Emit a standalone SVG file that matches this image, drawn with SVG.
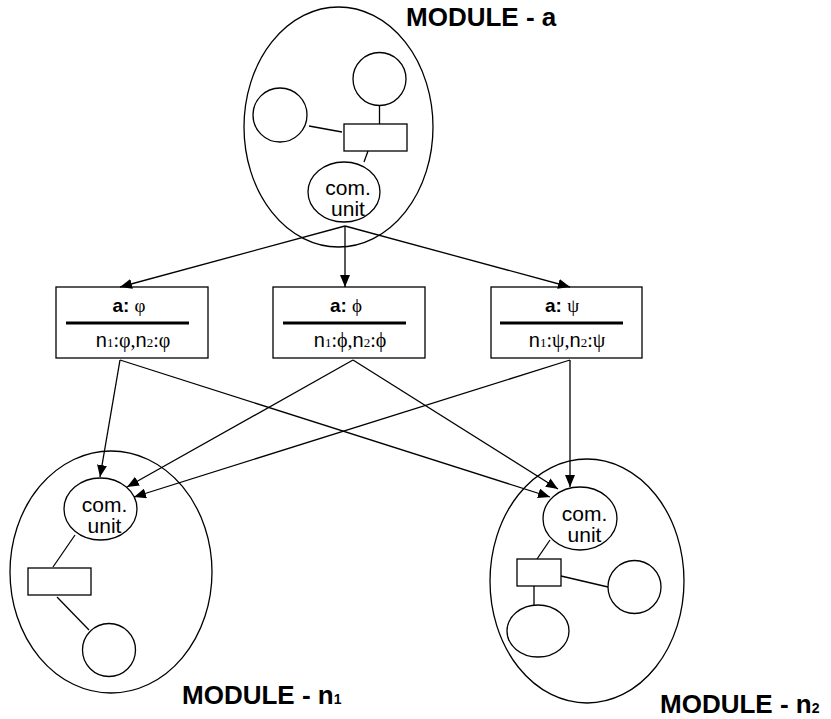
<svg xmlns="http://www.w3.org/2000/svg" width="831" height="719" viewBox="0 0 831 719">
<defs>
<marker id="ah" markerUnits="userSpaceOnUse" markerWidth="13" markerHeight="10" refX="12" refY="5" orient="auto"><path d="M0,0 L12,5 L0,10 z" fill="#000"/></marker>
<style>
.n{fill:none;stroke:#000;stroke-width:1.3}
.b{fill:#fff;stroke:#000;stroke-width:1.3}
.c{fill:none;stroke:#000;stroke-width:1.3;marker-end:url(#ah)}
.t{font-family:"Liberation Sans",Arial,sans-serif;font-size:21px;fill:#000}
.lbl{font-family:"Liberation Sans",Arial,sans-serif;font-size:26px;font-weight:bold;fill:#000}
.bt{font-family:"Liberation Sans",Arial,sans-serif;font-size:19px;fill:#000}
.bn{font-family:"Liberation Sans",Arial,sans-serif;font-size:20px;fill:#000}
.sym{font-family:"Liberation Serif","Times New Roman",serif}
.sub{font-family:"Liberation Serif","Times New Roman",serif;font-size:13px}
.sep{stroke:#000;stroke-width:3}
</style>
</defs>
<rect width="831" height="719" fill="#fff"/>

<g id="module-a">
<ellipse class="n" cx="338.5" cy="127" rx="94.5" ry="120"/>
<circle class="n" cx="379.5" cy="79" r="26.5"/>
<circle class="n" cx="280" cy="115" r="27"/>
<rect class="n" x="344" y="124" width="63" height="27"/>
<line class="n" x1="379.5" y1="105.5" x2="379.5" y2="124"/>
<line class="n" x1="309" y1="126" x2="342" y2="132"/>
<line class="n" x1="368" y1="151" x2="364" y2="162"/>
<ellipse class="n" cx="344" cy="192" rx="36" ry="30"/>
<text class="t" x="348" y="195" text-anchor="middle">com.</text>
<text class="t" x="348" y="216" text-anchor="middle">unit</text>
<text class="lbl" x="406" y="26">MODULE - a</text>
</g>

<g id="box-a-phi">
<rect class="b" x="56" y="287" width="152" height="71"/>
<text class="bt" x="129" y="312" text-anchor="middle"><tspan font-weight="bold">a:</tspan> <tspan class="sym">φ</tspan></text>
<line class="sep" x1="66" y1="323" x2="189" y2="323"/>
<text class="bn" x="133" y="347" text-anchor="middle">n<tspan class="sub">1</tspan><tspan class="sym">:φ,</tspan>n<tspan class="sub">2</tspan><tspan class="sym">:φ</tspan></text>
</g>

<g id="box-a-phi2">
<rect class="b" x="273" y="287" width="152" height="71"/>
<text class="bt" x="346" y="312" text-anchor="middle"><tspan font-weight="bold">a:</tspan> <tspan class="sym">ϕ</tspan></text>
<line class="sep" x1="283" y1="323" x2="406" y2="323"/>
<text class="bn" x="350" y="347" text-anchor="middle">n<tspan class="sub">1</tspan><tspan class="sym">:ϕ,</tspan>n<tspan class="sub">2</tspan><tspan class="sym">:ϕ</tspan></text>
</g>

<g id="box-a-psi">
<rect class="b" x="491" y="287" width="151" height="71"/>
<text class="bt" x="562" y="312" text-anchor="middle"><tspan font-weight="bold">a:</tspan> <tspan class="sym">ψ</tspan></text>
<line class="sep" x1="500" y1="323" x2="623" y2="323"/>
<text class="bn" x="567" y="347" text-anchor="middle">n<tspan class="sub">1</tspan><tspan class="sym">:ψ,</tspan>n<tspan class="sub">2</tspan><tspan class="sym">:ψ</tspan></text>
</g>

<g id="module-n1">
<ellipse class="n" cx="111" cy="572" rx="101" ry="121"/>
<ellipse class="n" cx="100.5" cy="509" rx="36.5" ry="31"/>
<text class="t" x="104.5" y="512" text-anchor="middle">com.</text>
<text class="t" x="104.5" y="533" text-anchor="middle">unit</text>
<line class="n" x1="75" y1="535" x2="53" y2="567"/>
<rect class="n" x="28" y="568" width="63" height="27"/>
<line class="n" x1="57" y1="597" x2="89" y2="630"/>
<circle class="n" cx="109" cy="650" r="26.5"/>
<text class="lbl" x="182" y="704">MODULE - n<tspan font-size="14">1</tspan></text>
</g>

<g id="module-n2">
<ellipse class="n" cx="587" cy="581" rx="97" ry="122"/>
<ellipse class="n" cx="580" cy="518.5" rx="37" ry="31.5"/>
<text class="t" x="584.5" y="521" text-anchor="middle">com.</text>
<text class="t" x="584.5" y="542" text-anchor="middle">unit</text>
<line class="n" x1="550" y1="540" x2="537" y2="559"/>
<rect class="n" x="517" y="559" width="44" height="27"/>
<line class="n" x1="561" y1="576" x2="608" y2="587"/>
<ellipse class="n" cx="634.5" cy="587" rx="26.5" ry="26.5"/>
<line class="n" x1="534" y1="586" x2="534" y2="605"/>
<ellipse class="n" cx="538" cy="631" rx="31" ry="26"/>
<text class="lbl" x="660" y="713">MODULE - n<tspan font-size="14">2</tspan></text>
</g>

<g id="connectors">
<line class="c" x1="345" y1="226" x2="120" y2="287"/>
<line class="c" x1="345" y1="226" x2="345" y2="287"/>
<line class="c" x1="345" y1="226" x2="570" y2="287"/>
<line class="c" x1="120" y1="360" x2="100" y2="477"/>
<line class="c" x1="120" y1="360" x2="550" y2="497"/>
<line class="c" x1="353" y1="360" x2="127" y2="487"/>
<line class="c" x1="353" y1="360" x2="558" y2="489"/>
<line class="c" x1="570" y1="360" x2="134" y2="497"/>
<line class="c" x1="570" y1="360" x2="570" y2="487"/>
</g>
</svg>
